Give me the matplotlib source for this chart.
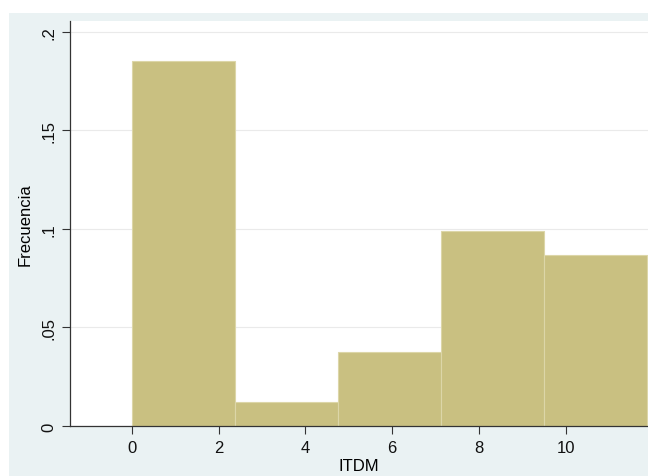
import matplotlib
matplotlib.use("Agg")
import matplotlib.pyplot as plt
from matplotlib.patches import Rectangle

plt.rcParams['font.family'] = ['Liberation Sans', 'DejaVu Sans']

bin_edges = [0.0, 2.375, 4.75, 7.125, 9.5, 11.875]
densities = [0.1853, 0.0122, 0.0376, 0.0990, 0.0868]
xticks = [0, 2, 4, 6, 8, 10]
yticks = [0, 0.05, 0.1, 0.15, 0.2]
ytick_labels = ["0", ".05", ".1", ".15", ".2"]

W, H = 648, 477
fig = plt.figure(figsize=(W/100, H/100), dpi=100)
fig.patch.set_facecolor('white')
fig.patches.append(Rectangle((9/W, 0), 1 - 9/W, (H-14)/H, transform=fig.transFigure,
                             facecolor='#EAF2F3', edgecolor='none', zorder=-10))

ax = fig.add_axes([70/W, (H-427)/H, 1 - 70/W, (427-22)/H])
ax.set_zorder(5)
ax.set_facecolor('white')
widths = [bin_edges[i+1]-bin_edges[i] for i in range(len(densities))]
ax.bar(bin_edges[:-1], densities, width=widths, align='edge',
       color='#C9C081', edgecolor='#DCD6A8', linewidth=0.8, zorder=2)

ax.set_xlim(-1.43, 11.9)
ax.set_ylim(0, 0.2055)
ax.set_xticks(xticks)
ax.set_yticks(yticks)
ax.set_yticklabels(ytick_labels, rotation=90, va='center')
ax.grid(axis='y', color='#EAEAEA', linewidth=0.8, zorder=0)
ax.set_axisbelow(True)
ax.tick_params(axis='both', direction='out', length=6, width=0.8, color='#333333',
               labelsize=12, labelcolor='#111111', pad=4)
for s in ['top', 'right']:
    ax.spines[s].set_visible(False)
for s in ['left', 'bottom']:
    ax.spines[s].set_color('#333333')
    ax.spines[s].set_linewidth(0.9)
ax.set_xlabel('ITDM', fontsize=12, labelpad=2)
ax.set_ylabel('Frecuencia', fontsize=12, labelpad=6)

fig.savefig('out.png', dpi=100, facecolor=fig.get_facecolor())
